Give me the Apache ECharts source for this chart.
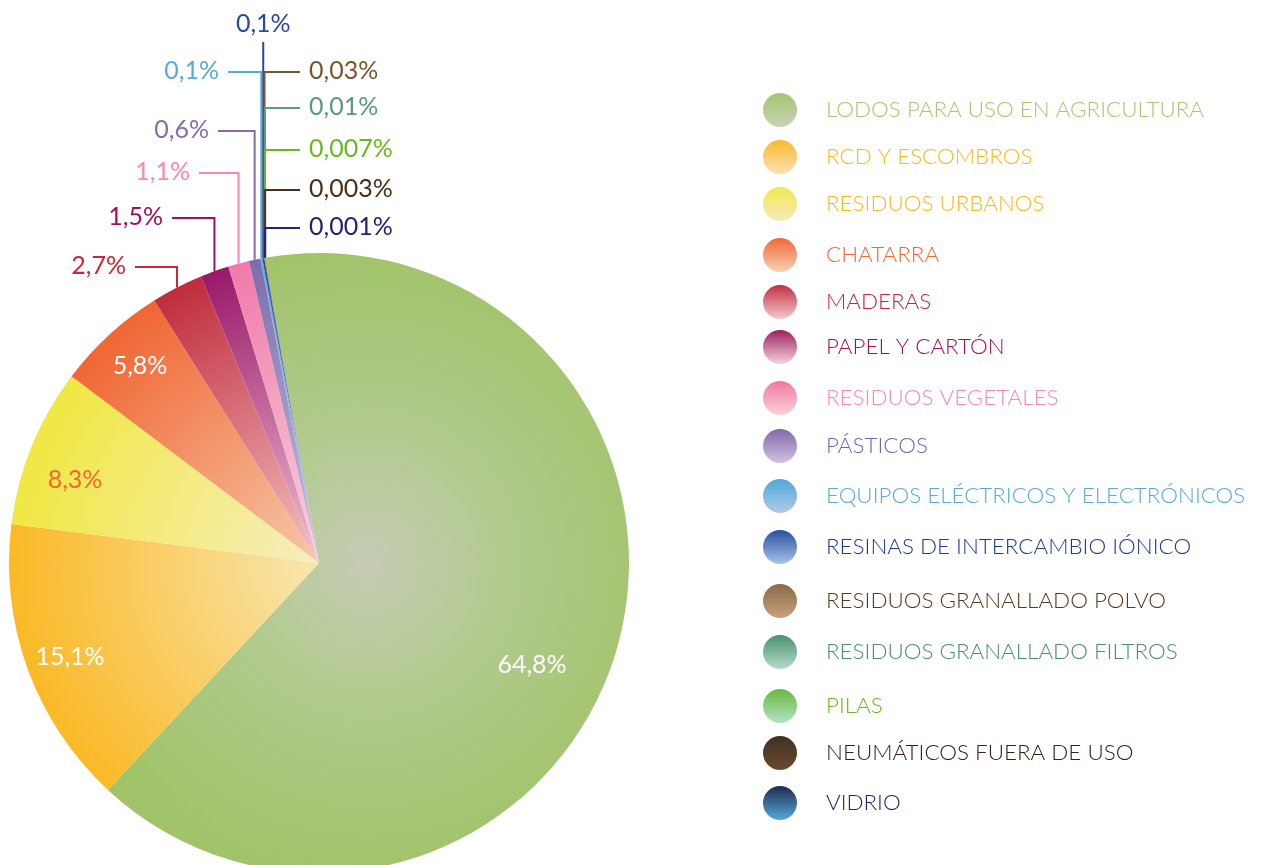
<!DOCTYPE html>
<html>
<head>
<meta charset="utf-8">
<style>
  html, body { margin: 0; padding: 0; background: #fff; }
  #chart { width: 1261px; height: 865px; }
</style>
<script src="https://cdn.jsdelivr.net/npm/echarts@6/dist/echarts.min.js"></script>
</head>
<body>
<div id="chart"></div>
<script>
// datos
const categories = ['LODOS PARA USO EN AGRICULTURA', 'RCD Y ESCOMBROS', 'RESIDUOS URBANOS', 'CHATARRA', 'MADERAS',
  'PAPEL Y CARTÓN', 'RESIDUOS VEGETALES', 'PÁSTICOS', 'EQUIPOS ELÉCTRICOS Y ELECTRÓNICOS', 'RESINAS DE INTERCAMBIO IÓNICO',
  'RESIDUOS GRANALLADO POLVO', 'RESIDUOS GRANALLADO FILTROS', 'PILAS', 'NEUMÁTICOS FUERA DE USO', 'VIDRIO'];
const shares = [64.8, 15.1, 8.3, 5.8, 2.7, 1.5, 1.1, 0.6, 0.1, 0.1, 0.03, 0.01, 0.007, 0.003, 0.001];
const shareLabels = ['64,8%', '15,1%', '8,3%', '5,8%', '2,7%', '1,5%', '1,1%', '0,6%', '0,1%', '0,1%',
  '0,03%', '0,01%', '0,007%', '0,003%', '0,001%'];

// colores: borde del sector, centro del sector, texto
const edgeColors = ['#a1c46a', '#fbb927', '#f0e842', '#f06634', '#c02c3c', '#98186a', '#f07aaa', '#7c6cac',
  '#5aaad8', '#2a4a9c', '#8a6a48', '#4a9070', '#6ab840', '#403020', '#2a2070'];
const innerColors = ['#c6ccb4', '#f8e6b0', '#f7edc0', '#f6c8a8', '#f4c2c4', '#f0c2d2', '#f8d2da', '#cac2e0',
  '#b8d4ec', '#a8c0e8', '#c8a078', '#b0dcc8', '#b0e0c0', '#6a4a30', '#50a8d8'];
const legendBottom = ['#c8d4b8', '#fbe2b0', '#f6eabb', '#f6d2b2', '#f6c8d0', '#f8d2da', '#fad2da', '#d2c2e2',
  '#b2cae8', '#a8c2e8', '#c8a07a', '#b2dcc8', '#b2e2c4', '#6a4a30', '#52aada'];
const legendTop = ['#a6c470', '#fbb830', '#f2e850', '#f06838', '#c03040', '#9a2060', '#f078a0', '#8068a8',
  '#50a8d8', '#2850a0', '#8a6a48', '#4a9070', '#6ab840', '#403020', '#202a50'];
const textColors = ['#a8c870', '#f8b820', '#f8b820', '#f06838', '#c02838', '#a01060', '#f888b0', '#8060a8',
  '#5aaad8', '#203c90', '#5a3a18', '#4a9070', '#6ab820', '#3a2010', '#2a2070'];
const labelColors = ['#ffffff', '#ffffff', '#f06a30', '#ffffff', '#c8283c', '#a0105a', '#f888b0', '#8a6aac',
  '#5aaad8', '#2a4a9c', '#7a5530', '#5a9a78', '#6ab820', '#4a3018', '#2a2070'];

const FONT = 'Lato, "Open Sans", sans-serif';
const CX = 319, CY = 563, R = 310;

// centro vertical de cada fila de la leyenda
const legendRowY = [110, 157, 204, 255, 302, 347, 398, 446, 496, 547, 601, 652, 706, 753, 803];

// posición de las etiquetas
const labelSlots = [
  { inside: true, x: 532, y: 665 },
  { inside: true, x: 70, y: 657 },
  { inside: true, x: 75, y: 480 },
  { inside: true, x: 140, y: 366 },
  { side: 'left', lineY: 267, end: 135 },
  { side: 'left', lineY: 218, end: 172 },
  { side: 'left', lineY: 173, end: 199 },
  { side: 'left', lineY: 131, end: 218 },
  { side: 'left', lineY: 72, end: 228 },
  { side: 'top', lineY: 42, textY: 24 },
  { side: 'right', lineY: 72, end: 300 },
  { side: 'right', lineY: 108, end: 300 },
  { side: 'right', lineY: 150, end: 300 },
  { side: 'right', lineY: 190, end: 300 },
  { side: 'right', lineY: 228, end: 300 }
];

const pieData = categories.map((name, i) => {
  const gx = i === 0 ? CX + 49 : CX;
  return {
    name: name,
    value: shares[i],
    itemStyle: {
      color: {
        type: 'radial', x: gx, y: CY, r: R, global: true,
        colorStops: i === 0
          ? [{ offset: 0, color: innerColors[0] }, { offset: 0.45, color: '#b1ca8c' }, { offset: 1, color: edgeColors[0] }]
          : [{ offset: 0, color: innerColors[i] }, { offset: 1, color: edgeColors[i] }]
      }
    },
    label: {
      position: labelSlots[i].inside ? 'inside' : 'outside',
      color: labelColors[i]
    },
    labelLine: {
      show: !labelSlots[i].inside,
      lineStyle: { color: labelColors[i], width: 2 }
    }
  };
});

// una leyenda por fila, para respetar el espaciado irregular
const legends = categories.map((name, i) => ({
  orient: 'vertical',
  left: 763,
  top: legendRowY[i] - 17,
  padding: 0,
  itemWidth: 34,
  itemHeight: 34,
  selectedMode: false,
  data: [{
    name: name,
    icon: 'circle',
    itemStyle: {
      color: {
        type: 'linear', x: 0, y: 0, x2: 0, y2: 1,
        colorStops: [{ offset: 0, color: legendTop[i] }, { offset: 1, color: legendBottom[i] }]
      }
    },
    textStyle: { color: textColors[i] }
  }],
  textStyle: {
    fontFamily: FONT,
    fontWeight: 300,
    fontSize: 22.4,
    padding: [0, 0, 0, 24]
  }
}));

const myChart = echarts.init(document.getElementById('chart'));

const option = {
  animation: false,
  legend: legends,
  series: [
    {
      type: 'pie',
      center: [CX, CY],
      radius: [0, R],
      startAngle: 100,
      clockwise: true,
      avoidLabelOverlap: false,
      silent: true,
      data: pieData,
      label: {
        formatter: (p) => shareLabels[p.dataIndex],
        fontFamily: FONT,
        fontWeight: 400,
        fontSize: 25
      },
      labelLine: { length: 10, length2: 10 },
      labelLayout: function (p) {
        const slot = labelSlots[p.dataIndex];
        if (slot.inside) {
          return { x: slot.x, y: slot.y, align: 'center', verticalAlign: 'middle' };
        }
        const a = p.labelLinePoints[0];
        if (slot.side === 'top') {
          return {
            x: a[0], y: slot.textY, align: 'center', verticalAlign: 'middle',
            labelLinePoints: [a, [a[0], slot.lineY], [a[0], slot.lineY]]
          };
        }
        const dir = slot.side === 'left' ? -1 : 1;
        return {
          x: slot.end + dir * 9,
          y: slot.lineY - 1,
          align: dir < 0 ? 'right' : 'left',
          verticalAlign: 'middle',
          labelLinePoints: [a, [a[0], slot.lineY], [slot.end, slot.lineY]]
        };
      }
    }
  ]
};

option && myChart.setOption(option);
</script>
</body>
</html>
